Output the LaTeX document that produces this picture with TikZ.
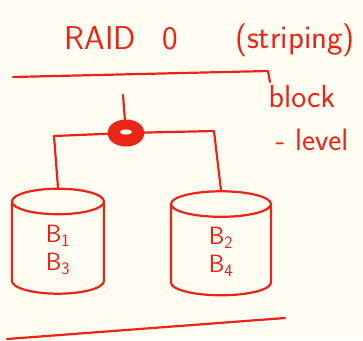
\documentclass[tikz,border=0pt]{standalone}
\usepackage{tikz}
\usetikzlibrary{shapes.geometric}
\definecolor{ink}{RGB}{234,36,22}
\definecolor{paper}{RGB}{255,253,241}
\tikzset{pen/.style={draw=ink,line width=2.2pt,line cap=round,line join=round},
  disk/.style={pen,cylinder,shape border rotate=90,aspect=0.9,align=center,
    text=ink,font=\sffamily\fontsize{25}{28}\selectfont}}
\begin{document}
\begin{tikzpicture}[x=1pt,y=-1pt,
  every node/.style={inner sep=2pt,text=ink,font=\sffamily\fontsize{33}{36}\selectfont}]
\fill[paper] (0,0) rectangle (363,340);
\useasboundingbox (0,0) rectangle (363,340);
\node (title) at (121,38) {RAID\ \, 0};
\node (mode) at (295,40) {(striping)};
\node[font=\sffamily\fontsize{32}{36}\selectfont] (block) at (302,97) {block};
\node[font=\sffamily\fontsize{31}{36}\selectfont] (level) at (312,140) {- level};
\coordinate (ruleL) at (13,77);
\coordinate (ruleR) at (268,71);
\coordinate (tick) at (270,82);
\coordinate (feed) at (123,95);
\coordinate (busL) at (54,136);
\coordinate (busR) at (214,131);
\node[pen,ellipse,fill=ink,minimum width=34,minimum height=24,line width=3pt,inner sep=0pt] (switch) at (126,133) {};
\node[disk,minimum width=92,minimum height=105] (diskA) at (58,250) {B\textsubscript{1}\\B\textsubscript{3}};
\node[disk,minimum width=100,minimum height=104] (diskB) at (221,252) {B\textsubscript{2}\\B\textsubscript{4}};
\coordinate (baseL) at (7,339);
\coordinate (baseR) at (285,318);
\fill[paper] (126,132) ellipse (6 and 2.5);
\draw[pen] (ruleL) -- (ruleR) -- (tick);
\draw[pen] (feed) -- (switch);
\draw[pen] (busL) -- (switch) -- (busR);
\draw[pen] (busL) -- (diskA.north);
\draw[pen] (busR) -- (diskB.north);
\draw[pen] (baseL) -- (baseR);
\end{tikzpicture}
\end{document}
